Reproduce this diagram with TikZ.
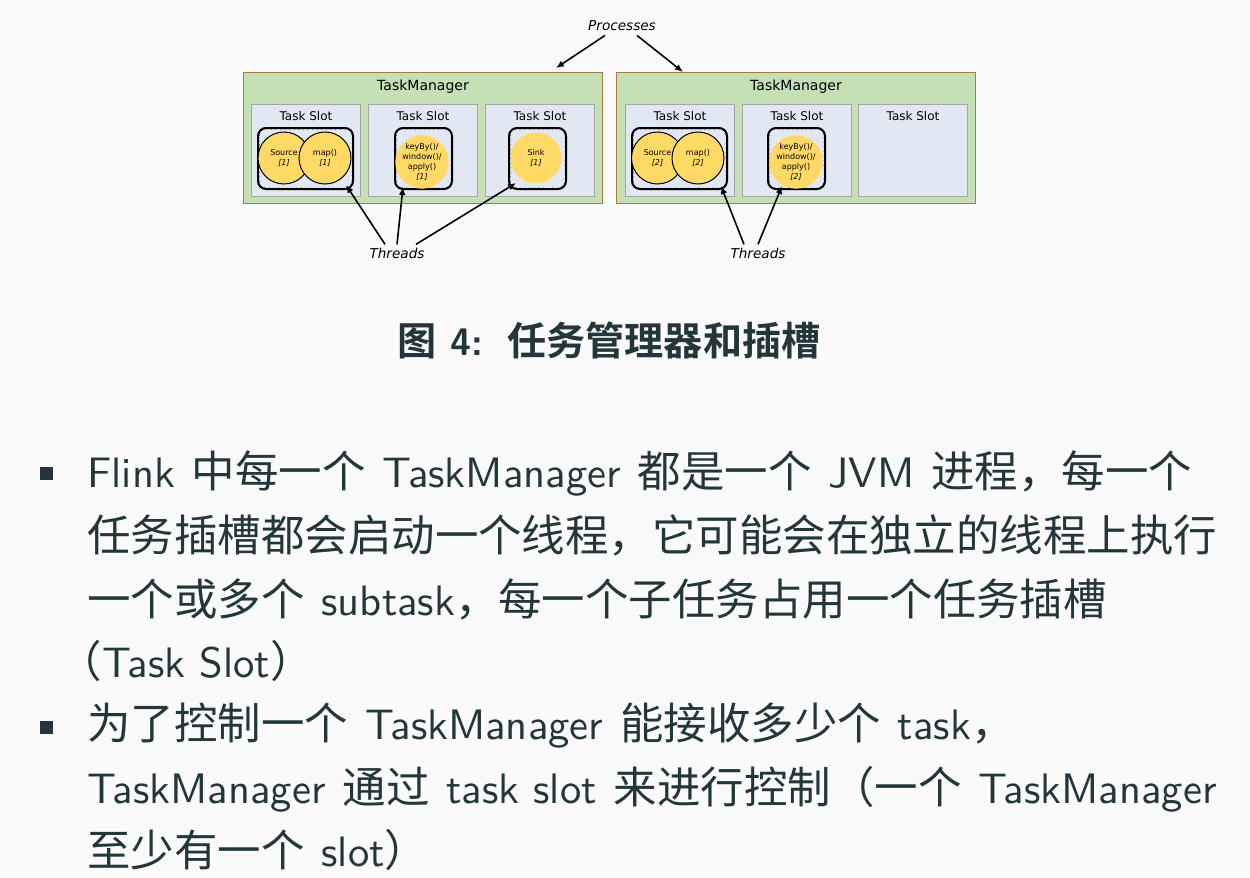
\documentclass[tikz,border=0pt]{standalone}
\usepackage{fontspec}
\setsansfont{lmsans10-regular.otf}[BoldFont=lmsans10-bold.otf]
\newfontfamily\cjk{Noto Sans CJK SC}[Scale=1.02, BoldFont={Noto Sans CJK SC Bold}]
\newfontfamily\dejavu{DejaVu Sans}[ItalicFont={DejaVu Sans Oblique}]
\usetikzlibrary{calc,positioning,arrows.meta}

\definecolor{slidebg}{HTML}{FAFAFA}
\definecolor{slidetext}{HTML}{23373B}
\definecolor{tmfill}{HTML}{C5E0B4}
\definecolor{tmedge}{HTML}{AE7A3C}
\definecolor{slotfill}{HTML}{E2E8F3}
\definecolor{slotedge}{HTML}{A6A6A6}
\definecolor{opfill}{HTML}{FFD966}

\def\threaddots#1{\draw[dotted, line width=0.3pt, rounded corners=3pt] ($(#1.north west)+(2.2,2.2)$) rectangle ($(#1.south east)+(-2.2,-2.2)$);}
\def\ecg{\hskip 8.5pt}

\tikzset{
  tmbox/.style={draw=tmedge, fill=tmfill, line width=0.5pt, inner sep=0pt, anchor=north west, minimum width=179.5pt, minimum height=65.3pt},
  slotbox/.style={draw=slotedge, fill=slotfill, line width=0.5pt, inner sep=0pt, anchor=north west, minimum width=54.5pt, minimum height=46pt},
  thrbox/.style={draw=black, line width=1pt, rounded corners=4pt, inner sep=0pt, anchor=north west, minimum width=28.5pt, minimum height=30.5pt},
  opcircle/.style={circle, fill=opfill, inner sep=0pt, minimum size=25.5pt, align=center, font=\dejavu\fontsize{4}{4.9}\selectfont},
  opedge/.style={draw=black, line width=0.5pt, minimum size=26pt},
  tmtitle/.style={font=\dejavu\fontsize{7}{8}\selectfont, inner sep=0pt},
  slottitle/.style={font=\dejavu\fontsize{6}{7}\selectfont, inner sep=0pt},
  notelabel/.style={font=\dejavu\itshape\fontsize{6.8}{8}\selectfont, inner sep=2pt},
  notearrow/.style={-{Latex[length=4pt,width=3.4pt]}, line width=0.8pt},
  bodyline/.style={anchor=base west, inner sep=0pt, text=slidetext, font=\sffamily\fontsize{21.3}{32}\selectfont},
  bulletsq/.style={fill=slidetext, inner sep=0pt, minimum size=6.5pt},
  captext/.style={anchor=base west, inner sep=0pt, text=slidetext, font=\sffamily\bfseries\fontsize{19.2}{22}\selectfont},
}

\begin{document}
\begin{tikzpicture}[x=0.5pt,y=-0.5pt]
			\fill[slidebg] (0,0) rectangle (1250,878);
			\useasboundingbox (0,0) rectangle (1250,878);
			
			%%%%% first task manager %%%%%
			\node[tmbox] (tmA) at (243,72) {};
			\node[tmtitle] (tmAname) at ($(tmA.north)+(0,14.5)$) {TaskManager};
			
			\node[slotbox] (slotA1) at (251,104) {};
			\node[slotbox] (slotA2) at (368,104) {};
			\node[slotbox] (slotA3) at (485,104) {};
			\node[slottitle] (slotA1name) at ($(slotA1.north)+(0,11.7)$) {Task Slot};
			\node[slottitle] (slotA2name) at ($(slotA2.north)+(0,11.7)$) {Task Slot};
			\node[slottitle] (slotA3name) at ($(slotA3.north)+(0,11.7)$) {Task Slot};
			
			\node[thrbox, minimum width=47.5pt] (thrA1) at (257,127) {};
			\node[thrbox] (thrA2) at (394,127) {};
			\node[thrbox] (thrA3) at (508,127) {};
			\threaddots{thrA1}
			\threaddots{thrA2}
			\threaddots{thrA3}
			
			\node[opcircle, opedge] (srcA) at (284,158) {Source\\\textit{[1]}};
			\node[opcircle, opedge] (mapA) at (325,158) {map()\\\textit{[1]}};
			\node[opcircle] (keyA) at (422,162) {keyBy()/\\window()/\\apply()\\\textit{[1]}};
			\node[opcircle] (sinkA) at (536,158) {Sink\\\textit{[1]}};
			
			%%%%% second task manager %%%%%
			\node[tmbox] (tmB) at (616,72) {};
			\node[tmtitle] (tmBname) at ($(tmB.north)+(0,14.5)$) {TaskManager};
			
			\node[slotbox] (slotB1) at (625,104) {};
			\node[slotbox] (slotB2) at (742,104) {};
			\node[slotbox] (slotB3) at (858,104) {};
			\node[slottitle] (slotB1name) at ($(slotB1.north)+(0,11.7)$) {Task Slot};
			\node[slottitle] (slotB2name) at ($(slotB2.north)+(0,11.7)$) {Task Slot};
			\node[slottitle] (slotB3name) at ($(slotB3.north)+(0,11.7)$) {Task Slot};
			
			\node[thrbox, minimum width=47.5pt] (thrB1) at (631,127) {};
			\node[thrbox] (thrB2) at (767,127) {};
			\threaddots{thrB1}
			\threaddots{thrB2}
			
			\node[opcircle, opedge] (srcB) at (657.5,158) {Source\\\textit{[2]}};
			\node[opcircle, opedge] (mapB) at (698,158) {map()\\\textit{[2]}};
			\node[opcircle] (keyB) at (796,162) {keyBy()/\\window()/\\apply()\\\textit{[2]}};
			
			%%%%% notes %%%%%
			\node[notelabel] (procNote) at (622,26) {Processes};
			\draw[notearrow] ($(procNote.south)+(-17,0)$) -- ($(tmA.north east)+(-47,-4)$);
			\draw[notearrow] ($(procNote.south)+(15,0)$) -- ($(tmB.north west)+(67,0)$);
			
			\node[notelabel] (thrNoteA) at (397,253) {Threads};
			\draw[notearrow] ($(thrNoteA.north)+(-12,1)$) -- ($(thrA1.south east)+(-8,-5)$);
			\draw[notearrow] ($(thrNoteA.north)+(0,1)$) -- ($(thrA2.south west)+(9,-3)$);
			\draw[notearrow] ($(thrNoteA.north)+(19,1)$) -- ($(thrA3.south west)+(8,-7)$);
			
			\node[notelabel] (thrNoteB) at (758,253) {Threads};
			\draw[notearrow] ($(thrNoteB.north)+(-14,1)$) -- ($(thrB1.south east)+(-7,-4)$);
			\draw[notearrow] ($(thrNoteB.north)+(0,1)$) -- ($(thrB2.south west)+(15,-4)$);
			
			%%%%% caption %%%%%
			\node[captext] (cap) at (397,355) {{\cjk\bfseries 图} 4:\hspace{2.5pt} {\cjk\bfseries 任务管理器和插槽}};
			
			%%%%% bullets %%%%%
			\node[bulletsq] (dotA) at (46,473) {};
			\node[bodyline] (lnA1) at (87,487) {Flink\ecg{\cjk 中每一个}\ecg TaskManager\ecg{\cjk 都是一个}\ecg JVM\ecg{\cjk 进程，每一个}};
			\node[bodyline] (lnA2) at (87,551) {\cjk 任务插槽都会启动一个线程，它可能会在独立的线程上执行};
			\node[bodyline] (lnA3) at (87,615) {{\cjk 一个或多个}\ecg subtask{\cjk ，每一个子任务占用一个任务插槽}};
			\node[bodyline] (lnA4) at (87,677) {{\cjk\kern-0.66em （}Task Slot{\cjk ）}};
			
			\node[bulletsq] (dotB) at (46,727) {};
			\node[bodyline] (lnB1) at (87,739) {{\cjk 为了控制一个}\ecg TaskManager\ecg{\cjk 能接收多少个}\ecg task{\cjk ，}};
			\node[bodyline] (lnB2) at (87,803) {TaskManager\ecg{\cjk 通过}\ecg task slot\ecg{\cjk 来进行控制（一个}\ecg TaskManager};
			\node[bodyline] (lnB3) at (87,866) {{\cjk 至少有一个}\ecg slot{\cjk ）}};
		\end{tikzpicture}
\end{document}
